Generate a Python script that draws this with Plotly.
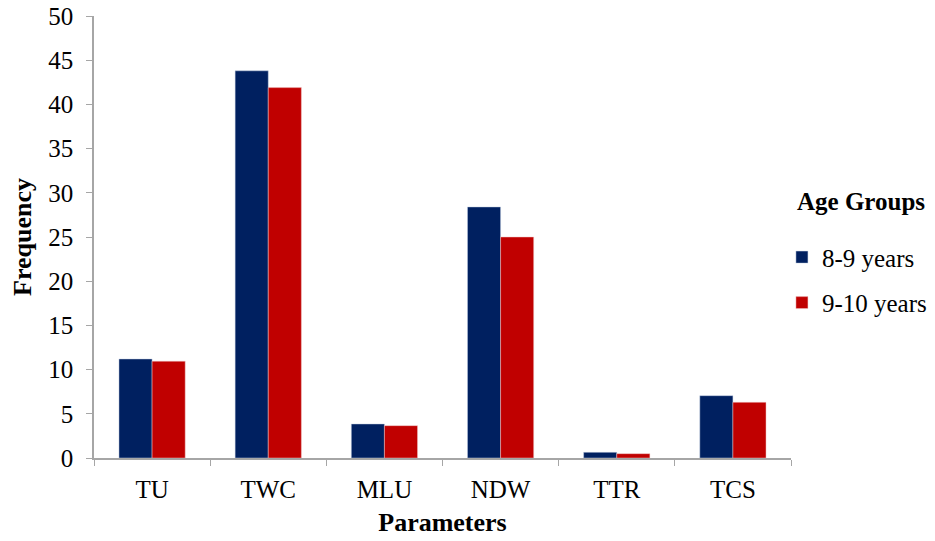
import plotly.graph_objects as go

categories = ["TU", "TWC", "MLU", "NDW", "TTR", "TCS"]
age_8_9 = [11.2, 43.8, 3.85, 28.4, 0.64, 7.05]
age_9_10 = [10.95, 41.9, 3.66, 25.0, 0.49, 6.3]
y_ticks = [0, 5, 10, 15, 20, 25, 30, 35, 40, 45, 50]

FONT = "Liberation Serif"

fig = go.Figure()
fig.add_trace(go.Bar(x=categories, y=age_8_9, name="8-9 years",
                     marker=dict(color="#002060", line=dict(color="rgba(200,210,230,0.8)", width=0.6)),
                     legendgroup="a"))
fig.add_trace(go.Bar(x=categories, y=age_9_10, name="9-10 years",
                     marker=dict(color="#C00000", line=dict(color="rgba(240,200,200,0.8)", width=0.6)),
                     legendgroup="b"))

fig.update_layout(
    width=927, height=533,
    margin=dict(l=86, r=144, t=8, b=83, autoexpand=False),
    paper_bgcolor="white", plot_bgcolor="white",
    barmode="group", bargap=0.43, bargroupgap=0,
    font=dict(family=FONT, size=24, color="black"),
    legend=dict(
        x=0.987, xanchor="left",
        y=0.403, yanchor="middle",
        font=dict(family=FONT, size=25, color="black"),
        tracegroupgap=10, bgcolor="rgba(0,0,0,0)",
    ),
    annotations=[dict(
        text="<b>Age Groups</b>", xref="paper", yref="paper",
        x=1.0, xshift=4, y=0.581, xanchor="left", yanchor="middle",
        showarrow=False, font=dict(family=FONT, size=25, color="black"),
    )],
    xaxis=dict(
        title=dict(text="<b>Parameters</b>", font=dict(family=FONT, size=26), standoff=11),
        showline=True, linecolor="#A6A6A6", linewidth=1.5, automargin=False,
        ticks="outside", tickson="boundaries", ticklen=6, tickcolor="#A6A6A6",
        ticklabelstandoff=8,
        showgrid=False, tickfont=dict(family=FONT, size=25),
    ),
    yaxis=dict(
        title=dict(text="<b>Frequency</b>", font=dict(family=FONT, size=26), standoff=14),
        range=[0, 50], tickvals=y_ticks, automargin=False,
        showline=True, linecolor="#A6A6A6", linewidth=1.5,
        ticks="outside", ticklen=6, tickcolor="#A6A6A6",
        ticklabelstandoff=8, ticklabeloverflow="allow",
        showgrid=False, zeroline=False, tickfont=dict(family=FONT, size=25),
    ),
)

fig.write_html("out.html")
